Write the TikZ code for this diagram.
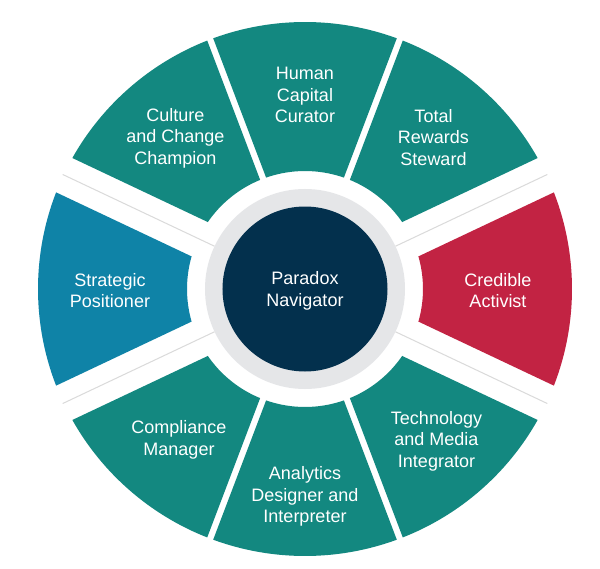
\documentclass[tikz,border=0pt]{standalone}
\usepackage{fontspec}
\setmainfont{Liberation Sans}
\definecolor{tealseg}{HTML}{138880}
\definecolor{blueseg}{HTML}{0F83A7}
\definecolor{redseg}{HTML}{C22343}
\definecolor{navyhub}{HTML}{03304D}
\definecolor{ringgray}{HTML}{E5E6E8}
\definecolor{gapline}{HTML}{DADADA}
\def\wRin{118}
\def\wRout{267}
\newcommand{\wheelseg}[5]{%
  \pgfmathsetmacro{\aIi}{#2+asin(#3/\wRin)}%
  \pgfmathsetmacro{\aIo}{#2+asin(#3/\wRout)}%
  \pgfmathsetmacro{\aOo}{#4-asin(#5/\wRout)}%
  \pgfmathsetmacro{\aOi}{#4-asin(#5/\wRin)}%
  \fill[#1] (\aIi:\wRin pt) -- (\aIo:\wRout pt)
    arc[start angle=\aIo, end angle=\aOo, radius=\wRout pt]
    -- (\aOi:\wRin pt)
    arc[start angle=\aOi, end angle=\aIi, radius=\wRin pt] -- cycle;%
}
\tikzset{
  lbl/.style={text=white, align=center, inner sep=0pt, font=\fontsize{18}{21.5}\selectfont},
  thinline/.style={draw=gapline, line width=1pt}
}
\begin{document}
\begin{tikzpicture}
\useasboundingbox (-305pt,-279pt) rectangle (295pt,289pt);
\fill[white] (-305pt,-279pt) rectangle (295pt,289pt);
% thin lines in the wide gaps
\foreach \g in {25.3,154.7,205.3,334.7}{
  \draw[thinline] (\g:100pt) -- (\g:268pt);
}
% segments
\wheelseg{redseg}{-25.3}{19}{25.3}{19}
\wheelseg{tealseg}{25.3}{19}{69.2}{3.2}
\wheelseg{tealseg}{69.2}{3.2}{110.8}{3.2}
\wheelseg{tealseg}{110.8}{3.2}{154.7}{19}
\wheelseg{blueseg}{154.7}{19}{205.3}{19}
\wheelseg{tealseg}{205.3}{19}{249.2}{3.2}
\wheelseg{tealseg}{249.2}{3.2}{290.8}{3.2}
\wheelseg{tealseg}{290.8}{3.2}{334.7}{19}
% hub
\fill[ringgray] (0,0) circle[radius=100pt];
\fill[navyhub] (0,0) circle[radius=82.5pt];
% labels
\node[lbl] (hub) at (0pt,-2pt) {Paradox\\Navigator};
\node[lbl] (human) at (0pt,194pt) {Human\\Capital\\Curator};
\node[lbl] (culture) at (-129.5pt,151pt) {Culture\\and Change\\Champion};
\node[lbl] (total) at (128.5pt,151.5pt) {Total\\Rewards\\Steward};
\node[lbl] (strategic) at (-195pt,-1.5pt) {Strategic\\Positioner};
\node[lbl] (credible) at (193pt,-1.5pt) {Credible\\Activist};
\node[lbl] (compliance) at (-126pt,-151pt) {Compliance\\Manager};
\node[lbl] (technology) at (131.5pt,-152pt) {Technology\\and Media\\Integrator};
\node[lbl] (analytics) at (0pt,-207.7pt) {Analytics\\Designer and\\Interpreter};
\end{tikzpicture}
\end{document}
